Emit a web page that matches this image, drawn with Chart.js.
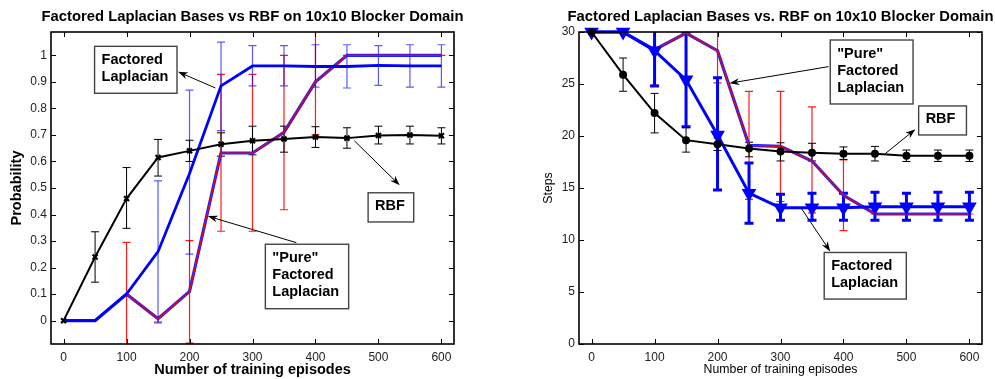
<!DOCTYPE html>
<html>
<head>
<meta charset="utf-8">
<script src="https://cdn.jsdelivr.net/npm/chart.js@4/dist/chart.umd.min.js"></script>
<style>
  body { margin: 0; background: #fff; }
  #wrap { position: relative; width: 995px; height: 379px; }
  canvas { position: absolute; top: 0; }
</style>
</head>
<body>
<div id="wrap">
  <canvas id="probChart" width="497" height="379" style="left:0"></canvas>
  <canvas id="stepsChart" width="498" height="379" style="left:497px"></canvas>
</div>
<script>
// training episodes on the x axis (both panels)
const episodes = [0, 50, 100, 150, 200, 250, 300, 350, 400, 450, 500, 550, 600];
const xTicks = [0, 100, 200, 300, 400, 500, 600];

// left panel: probability of reaching the goal
const probTicks = [0, 0.1, 0.2, 0.3, 0.4, 0.5, 0.6, 0.7, 0.8, 0.9, 1];
const probRbf   = [0, 0.24, 0.46, 0.615, 0.64, 0.665, 0.678, 0.685, 0.692, 0.688, 0.698, 0.70, 0.697];
const probRbfLo = [null, 0.145, 0.348, 0.545, 0.60, 0.62, 0.625, 0.635, 0.653, 0.65, 0.666, 0.666, 0.666];
const probRbfHi = [null, 0.335, 0.577, 0.683, 0.68, 0.708, 0.733, 0.733, 0.731, 0.727, 0.733, 0.733, 0.727];
const probFL    = [0, 0, 0.10, 0.26, 0.555, 0.885, 0.96, 0.96, 0.958, 0.958, 0.962, 0.96, 0.96];
const probFLLo  = [null, null, null, -0.008, 0.251, 0.716, 0.885, 0.885, 0.88, 0.877, 0.887, 0.88, 0.88];
const probFLHi  = [null, null, null, 0.527, 0.869, 1.05, 1.037, 1.037, 1.04, 1.04, 1.037, 1.04, 1.04];
const probPure   = [0, 0, 0.10, 0.007, 0.11, 0.632, 0.632, 0.71, 0.90, 1.0, 1.0, 1.0, 1.0];
const probPureLo = [null, null, -0.10, -0.005, -0.085, 0.337, 0.337, 0.418, 0.70, 1.0, 1.0, 1.0, 1.0];
const probPureHi = [null, null, 0.295, 0.015, 0.302, 0.928, 0.928, 1.0, 1.10, 1.0, 1.0, 1.0, 1.0];

// right panel: steps to goal
const stepTicks = [0, 5, 10, 15, 20, 25, 30];
const stepsRbf   = [30, 25.9, 22.2, 19.6, 19.2, 18.8, 18.5, 18.4, 18.3, 18.3, 18.1, 18.1, 18.1];
const stepsRbfLo = [null, 24.3, 20.3, 18.45, 18.6, 18.0, 17.6, 17.6, 17.75, 17.6, 17.55, 17.55, 17.55];
const stepsRbfHi = [null, 27.5, 24.1, 20.8, 19.8, 19.4, 19.35, 19.3, 18.95, 19.0, 18.65, 18.65, 18.65];
const stepsFL    = [30, 30, 28.2, 25.4, 20.1, 14.5, 13.1, 13.1, 13.1, 13.2, 13.2, 13.2, 13.2];
const stepsFLLo  = [null, null, 24.8, 20.9, 14.8, 11.6, 11.9, 11.9, 11.9, 11.9, 11.9, 11.9, 11.9];
const stepsFLHi  = [null, null, 31.6, 30.0, 25.6, 17.4, 14.4, 14.5, 14.5, 14.6, 14.5, 14.6, 14.6];
const stepsPure   = [30, 30, 28.3, 29.9, 28.2, 19.1, 19.0, 17.6, 14.3, 12.5, 12.5, 12.5, 12.5];
const stepsPureLo = [null, null, 24.9, null, 25.1, 13.9, 13.7, 12.6, 10.9, 12.5, 12.5, 12.5, 12.5];
const stepsPureHi = [null, null, 31.7, null, 31.3, 24.3, 24.3, 22.8, 17.7, 12.5, 12.5, 12.5, 12.5];

// text boxes with arrows, in data units: box [x1, y1, x2, y2], arrow [tailX, tailY, headX, headY]
const probNotes = [
  { lines: ['Factored', 'Laplacian'], box: [49.2, 1.034, 180.1, 0.857], arrow: [241, 0.877, 181.7, 0.938] },
  { lines: ['RBF'], box: [483.6, 0.482, 556, 0.372], arrow: [461.8, 0.678, 533.8, 0.51] },
  { lines: ['"Pure"', 'Factored', 'Laplacian'], box: [320.4, 0.288, 452.7, 0.045], arrow: [369.6, 0.294, 228.8, 0.394] }
];
const stepNotes = [
  { lines: ['"Pure"', 'Factored', 'Laplacian'], box: [379, 29.23, 510.5, 23.08], arrow: [376.3, 26.67, 218.8, 25.07] },
  { lines: ['RBF'], box: [519.4, 22.89, 595.3, 20.1], arrow: [465.3, 18.25, 514.2, 20.65] },
  { lines: ['Factored', 'Laplacian'], box: [369.4, 8.8, 499.8, 4.32], arrow: [332.9, 13.06, 379, 8.9] }
];

const FONT = '"Liberation Sans", Arial, Helvetica, sans-serif';
const pts = ys => episodes.map((x, i) => ({ x: x, y: ys[i] }));

function drawArrow(ctx, x0, y0, x1, y1) {
  const a = Math.atan2(y1 - y0, x1 - x0);
  const len = 10, half = 3.5;
  ctx.beginPath();
  ctx.moveTo(x0, y0);
  ctx.lineTo(x1 - Math.cos(a) * 6, y1 - Math.sin(a) * 6);
  ctx.stroke();
  ctx.beginPath();
  ctx.moveTo(x1, y1);
  ctx.lineTo(x1 - Math.cos(a) * len - Math.sin(a) * half, y1 - Math.sin(a) * len + Math.cos(a) * half);
  ctx.lineTo(x1 - Math.cos(a) * 7, y1 - Math.sin(a) * 7);
  ctx.lineTo(x1 - Math.cos(a) * len + Math.sin(a) * half, y1 - Math.sin(a) * len - Math.cos(a) * half);
  ctx.closePath();
  ctx.fill();
}

// matlab-ish frame, error bars, titles and callouts
const figurePlugin = {
  id: 'figure',
  beforeDatasetsDraw(chart, args, o) {
    const { ctx, chartArea: a } = chart;
    const xs = chart.scales.x, ys = chart.scales.y;
    ctx.save();
    ctx.beginPath();
    ctx.rect(a.left, a.top, a.right - a.left, a.bottom - a.top);
    ctx.clip();
    o.bars.forEach(b => {
      ctx.strokeStyle = b.color;
      ctx.lineWidth = b.width;
      b.lo.forEach((lo, i) => {
        if (lo === null) return;
        const x = xs.getPixelForValue(episodes[i]);
        const y1 = ys.getPixelForValue(lo);
        const y2 = ys.getPixelForValue(b.hi[i]);
        ctx.beginPath();
        ctx.moveTo(x, y1); ctx.lineTo(x, y2);
        ctx.moveTo(x - b.cap / 2, y1); ctx.lineTo(x + b.cap / 2, y1);
        ctx.moveTo(x - b.cap / 2, y2); ctx.lineTo(x + b.cap / 2, y2);
        ctx.stroke();
      });
    });
    ctx.restore();
  },
  afterDraw(chart, args, o) {
    const { ctx, chartArea: a } = chart;
    const xs = chart.scales.x, ys = chart.scales.y;
    ctx.save();
    // inward tick marks on all four sides
    ctx.strokeStyle = '#000';
    ctx.lineWidth = 1;
    ctx.beginPath();
    xTicks.forEach(v => {
      const x = Math.round(xs.getPixelForValue(v)) + 0.5;
      ctx.moveTo(x, a.bottom); ctx.lineTo(x, a.bottom - 5);
      ctx.moveTo(x, a.top); ctx.lineTo(x, a.top + 5);
    });
    o.yTicks.forEach(v => {
      const y = Math.round(ys.getPixelForValue(v)) + 0.5;
      ctx.moveTo(a.left, y); ctx.lineTo(a.left + 5, y);
      ctx.moveTo(a.right, y); ctx.lineTo(a.right - 5, y);
    });
    ctx.stroke();
    ctx.lineWidth = 1.6;
    ctx.strokeRect(a.left, a.top, a.right - a.left, a.bottom - a.top);

    // titles
    const cx = (a.left + a.right) / 2;
    ctx.fillStyle = '#000';
    ctx.textAlign = 'center';
    ctx.textBaseline = 'middle';
    ctx.font = 'bold 14.8px ' + FONT;
    ctx.fillText(o.title, cx, 17);
    ctx.font = o.labelFont;
    ctx.fillText(o.xTitle, cx, 370);
    ctx.save();
    ctx.translate(o.yTitleX, (a.top + a.bottom) / 2);
    ctx.rotate(-Math.PI / 2);
    ctx.fillText(o.yTitle, 0, 0);
    ctx.restore();

    // callout boxes
    o.notes.forEach(n => {
      const x1 = xs.getPixelForValue(n.box[0]), y1 = ys.getPixelForValue(n.box[1]);
      const x2 = xs.getPixelForValue(n.box[2]), y2 = ys.getPixelForValue(n.box[3]);
      ctx.fillStyle = '#fff';
      ctx.fillRect(x1, y1, x2 - x1, y2 - y1);
      ctx.strokeStyle = '#444';
      ctx.lineWidth = 1.4;
      ctx.strokeRect(x1, y1, x2 - x1, y2 - y1);
      ctx.fillStyle = '#000';
      ctx.font = 'bold 14.5px ' + FONT;
      ctx.textAlign = 'left';
      const mid = (y1 + y2) / 2 - 1;
      n.lines.forEach((t, i) => {
        ctx.fillText(t, x1 + 7, mid + (i - (n.lines.length - 1) / 2) * 17);
      });
      ctx.strokeStyle = '#000';
      ctx.lineWidth = 1;
      drawArrow(ctx,
        xs.getPixelForValue(n.arrow[0]), ys.getPixelForValue(n.arrow[1]),
        xs.getPixelForValue(n.arrow[2]), ys.getPixelForValue(n.arrow[3]));
    });
    ctx.restore();
  }
};

function makeChart(id, cfg) {
  return new Chart(document.getElementById(id), {
    type: 'line',
    data: { datasets: cfg.datasets },
    options: {
      responsive: false,
      animation: false,
      devicePixelRatio: 1,
      layout: { padding: cfg.padding },
      plugins: {
        legend: { display: false },
        tooltip: { enabled: false },
        figure: cfg.figure
      },
      scales: {
        x: {
          type: 'linear', min: -20, max: 620,
          grid: { display: false, drawTicks: false },
          border: { display: false },
          afterBuildTicks: s => { s.ticks = xTicks.map(v => ({ value: v })); },
          afterFit: s => { s.height = 35; },
          ticks: { padding: 6, color: '#222', font: { family: FONT, size: 12 } }
        },
        y: {
          type: 'linear', min: cfg.yMin, max: cfg.yMax,
          grid: { display: false, drawTicks: false },
          border: { display: false },
          afterBuildTicks: s => { s.ticks = cfg.figure.yTicks.map(v => ({ value: v })); },
          afterFit: s => { s.width = cfg.yWidth; },
          ticks: {
            padding: 4, color: '#222', font: { family: FONT, size: 12 },
            callback: v => String(+v.toFixed(2))
          }
        }
      }
    },
    plugins: [figurePlugin]
  });
}

makeChart('probChart', {
  padding: { top: 32, right: 43, left: 0, bottom: 0 },
  yMin: -0.088, yMax: 1.088, yWidth: 51,
  datasets: [
    { data: pts(probRbf), borderColor: '#000', borderWidth: 2, pointStyle: 'crossRot',
      pointRadius: 3.5, pointBorderWidth: 2.2, pointBorderColor: '#000', order: 0, clip: false },
    { data: pts(probFL), borderColor: '#0000ff', borderWidth: 2.8, pointRadius: 0, order: 1, clip: false },
    { data: pts(probPure), borderColor: '#2020ff', borderWidth: 3.2, pointRadius: 0, order: 3, clip: false },
    { data: pts(probPure), borderColor: '#ff0000', borderWidth: 1.2, pointRadius: 0, order: 2, clip: false }
  ],
  figure: {
    title: 'Factored Laplacian Bases vs RBF on 10x10 Blocker Domain',
    xTitle: 'Number of training episodes',
    yTitle: 'Probability',
    yTitleX: 17,
    labelFont: 'bold 14.5px ' + FONT,
    yTicks: probTicks,
    notes: probNotes,
    bars: [
      { lo: probPureLo, hi: probPureHi, color: 'rgba(255,0,0,0.9)', width: 1.2, cap: 8 },
      { lo: probFLLo, hi: probFLHi, color: 'rgba(0,0,255,0.65)', width: 1.2, cap: 8 },
      { lo: probRbfLo, hi: probRbfHi, color: '#000', width: 1, cap: 8 }
    ]
  }
});

makeChart('stepsChart', {
  padding: { top: 32, right: 13, left: 0, bottom: 0 },
  yMin: 0, yMax: 30, yWidth: 82,
  datasets: [
    { data: pts(stepsRbf), borderColor: '#000', borderWidth: 2, pointStyle: 'circle',
      pointRadius: 3, pointBackgroundColor: '#000', pointBorderColor: '#000', order: 0, clip: false },
    { data: pts(stepsFL), borderColor: '#0000ff', borderWidth: 3, pointStyle: 'triangle', pointRotation: 180,
      pointRadius: 5.5, pointBackgroundColor: '#0000ff', pointBorderColor: '#0000ff', order: 1, clip: false },
    { data: pts(stepsPure), borderColor: '#2020ff', borderWidth: 3.2, pointRadius: 0, order: 3, clip: false },
    { data: pts(stepsPure), borderColor: '#ff0000', borderWidth: 1.2, pointRadius: 0, order: 2, clip: false }
  ],
  figure: {
    title: 'Factored Laplacian Bases vs. RBF on 10x10 Blocker Domain',
    xTitle: 'Number of training episodes',
    yTitle: 'Steps',
    yTitleX: 52,
    labelFont: '12.3px ' + FONT,
    yTicks: stepTicks,
    notes: stepNotes,
    bars: [
      { lo: stepsPureLo, hi: stepsPureHi, color: 'rgba(255,0,0,0.9)', width: 1.2, cap: 8 },
      { lo: stepsFLLo, hi: stepsFLHi, color: '#0000ff', width: 3, cap: 9 },
      { lo: stepsRbfLo, hi: stepsRbfHi, color: '#000', width: 1, cap: 8 }
    ]
  }
});
</script>
</body>
</html>
